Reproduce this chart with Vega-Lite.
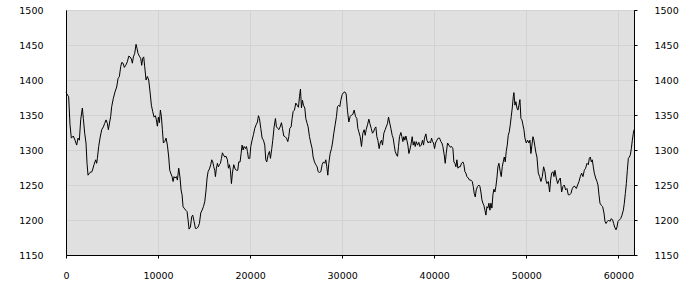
{
  "$schema": "https://vega.github.io/schema/vega-lite/v6.json",
  "width": 568,
  "height": 245,
  "autosize": {"type": "none"},
  "padding": {"left": 66, "top": 10, "right": 66, "bottom": 45},
  "background": "white",
  "config": {
    "view": {"fill": "#e0e0e0", "stroke": "#000000", "strokeWidth": 1},
    "axis": {
      "labelFont": "DejaVu Sans",
      "labelFontSize": 9.5,
      "labelColor": "#000000",
      "domainColor": "#000000",
      "tickColor": "#000000",
      "gridColor": "#d2d2d2",
      "gridWidth": 1,
      "title": null
    }
  },
  "data": {
    "values": [
      {"x":0,"y":1382},{"x":290,"y":1376},{"x":435,"y":1336},{"x":580,"y":1317},{"x":797,"y":1320},{"x":979,"y":1314},{"x":1160,"y":1307},{"x":1305,"y":1317},{"x":1450,"y":1314},{"x":1595,"y":1343},{"x":1776,"y":1360},{"x":1884,"y":1345},{"x":2029,"y":1324},{"x":2174,"y":1310},{"x":2283,"y":1281},{"x":2392,"y":1264},{"x":2609,"y":1268},{"x":2826,"y":1269},{"x":3044,"y":1279},{"x":3225,"y":1286},{"x":3334,"y":1281},{"x":3406,"y":1288},{"x":3551,"y":1305},{"x":3696,"y":1317},{"x":3877,"y":1329},{"x":4058,"y":1333},{"x":4203,"y":1338},{"x":4348,"y":1343},{"x":4493,"y":1338},{"x":4602,"y":1329},{"x":4747,"y":1340},{"x":4855,"y":1348},{"x":4964,"y":1362},{"x":5145,"y":1374},{"x":5326,"y":1383},{"x":5507,"y":1390},{"x":5652,"y":1402},{"x":5797,"y":1405},{"x":5942,"y":1419},{"x":6051,"y":1425},{"x":6196,"y":1424},{"x":6341,"y":1418},{"x":6486,"y":1421},{"x":6667,"y":1426},{"x":6812,"y":1434},{"x":6957,"y":1433},{"x":7101,"y":1430},{"x":7210,"y":1424},{"x":7319,"y":1433},{"x":7464,"y":1438},{"x":7609,"y":1451},{"x":7717,"y":1445},{"x":7826,"y":1438},{"x":7971,"y":1434},{"x":8116,"y":1431},{"x":8225,"y":1421},{"x":8333,"y":1431},{"x":8442,"y":1433},{"x":8551,"y":1419},{"x":8696,"y":1400},{"x":8841,"y":1405},{"x":8985,"y":1400},{"x":9130,"y":1383},{"x":9275,"y":1364},{"x":9420,"y":1355},{"x":9565,"y":1347},{"x":9710,"y":1349},{"x":9819,"y":1343},{"x":9927,"y":1334},{"x":10036,"y":1347},{"x":10145,"y":1339},
      {"x":10254,"y":1357},{"x":10362,"y":1348},{"x":10471,"y":1329},{"x":10580,"y":1310},{"x":10725,"y":1312},{"x":10870,"y":1317},{"x":11014,"y":1307},{"x":11159,"y":1290},{"x":11268,"y":1271},{"x":11377,"y":1267},{"x":11522,"y":1262},{"x":11630,"y":1255},{"x":11739,"y":1262},{"x":11848,"y":1260},{"x":11993,"y":1262},{"x":12101,"y":1257},{"x":12246,"y":1274},{"x":12391,"y":1260},{"x":12500,"y":1243},{"x":12609,"y":1236},{"x":12717,"y":1219},{"x":12826,"y":1217},{"x":13007,"y":1214},{"x":13152,"y":1212},{"x":13261,"y":1200},{"x":13369,"y":1187},{"x":13514,"y":1190},{"x":13659,"y":1205},{"x":13768,"y":1207},{"x":13913,"y":1198},{"x":14058,"y":1188},{"x":14203,"y":1188},{"x":14348,"y":1190},{"x":14493,"y":1195},{"x":14637,"y":1210},{"x":14782,"y":1214},{"x":14927,"y":1219},{"x":15072,"y":1226},{"x":15217,"y":1243},{"x":15326,"y":1260},{"x":15435,"y":1269},{"x":15579,"y":1273},{"x":15724,"y":1279},{"x":15833,"y":1286},{"x":15942,"y":1283},{"x":16050,"y":1276},{"x":16159,"y":1271},{"x":16232,"y":1262},{"x":16340,"y":1274},{"x":16449,"y":1281},{"x":16558,"y":1276},{"x":16666,"y":1279},{"x":16775,"y":1281},{"x":16884,"y":1288},{"x":16992,"y":1296},{"x":17101,"y":1293},{"x":17246,"y":1290},{"x":17391,"y":1291},{"x":17536,"y":1286},{"x":17645,"y":1274},{"x":17753,"y":1279},{"x":17862,"y":1271},{"x":17971,"y":1252},{"x":18079,"y":1267},{"x":18224,"y":1279},{"x":18369,"y":1273},{"x":18514,"y":1271},{"x":18659,"y":1271},{"x":18768,"y":1283},{"x":18913,"y":1283},{"x":19021,"y":1295},{"x":19130,"y":1307},{"x":19239,"y":1300},{"x":19347,"y":1305},{"x":19492,"y":1302},{"x":19601,"y":1305},{"x":19710,"y":1298},{"x":19818,"y":1288},{"x":19963,"y":1288},{"x":20072,"y":1305},{"x":20217,"y":1314},{"x":20362,"y":1322},
      {"x":20507,"y":1331},{"x":20652,"y":1336},{"x":20797,"y":1340},{"x":20905,"y":1349},{"x":21014,"y":1345},{"x":21159,"y":1331},{"x":21304,"y":1317},{"x":21449,"y":1314},{"x":21594,"y":1307},{"x":21702,"y":1286},{"x":21811,"y":1283},{"x":21956,"y":1293},{"x":22101,"y":1298},{"x":22210,"y":1288},{"x":22355,"y":1302},{"x":22463,"y":1314},{"x":22608,"y":1333},{"x":22753,"y":1345},{"x":22862,"y":1333},{"x":23007,"y":1331},{"x":23115,"y":1329},{"x":23260,"y":1333},{"x":23405,"y":1339},{"x":23514,"y":1331},{"x":23659,"y":1320},{"x":23804,"y":1319},{"x":23949,"y":1317},{"x":24094,"y":1312},{"x":24202,"y":1319},{"x":24311,"y":1331},{"x":24456,"y":1333},{"x":24565,"y":1345},{"x":24673,"y":1355},{"x":24818,"y":1357},{"x":24963,"y":1367},{"x":25108,"y":1364},{"x":25253,"y":1361},{"x":25362,"y":1376},{"x":25470,"y":1387},{"x":25579,"y":1360},{"x":25688,"y":1371},{"x":25796,"y":1364},{"x":25941,"y":1360},{"x":26050,"y":1345},{"x":26195,"y":1338},{"x":26304,"y":1333},{"x":26449,"y":1319},{"x":26593,"y":1310},{"x":26738,"y":1302},{"x":26847,"y":1290},{"x":26992,"y":1283},{"x":27137,"y":1279},{"x":27282,"y":1276},{"x":27391,"y":1269},{"x":27536,"y":1268},{"x":27681,"y":1269},{"x":27825,"y":1279},{"x":27970,"y":1283},{"x":28115,"y":1281},{"x":28224,"y":1286},{"x":28333,"y":1276},{"x":28441,"y":1264},{"x":28550,"y":1281},{"x":28695,"y":1295},{"x":28840,"y":1302},{"x":28949,"y":1310},{"x":29093,"y":1324},{"x":29238,"y":1336},{"x":29383,"y":1348},{"x":29492,"y":1362},{"x":29637,"y":1364},{"x":29746,"y":1362},{"x":29854,"y":1371},{"x":29999,"y":1379},{"x":30144,"y":1382},{"x":30289,"y":1383},{"x":30434,"y":1380},{"x":30579,"y":1356},
      {"x":30725,"y":1340},{"x":30870,"y":1348},{"x":31015,"y":1350},{"x":31160,"y":1351},{"x":31305,"y":1357},{"x":31449,"y":1348},{"x":31594,"y":1345},{"x":31703,"y":1331},{"x":31812,"y":1326},{"x":31957,"y":1319},{"x":32102,"y":1305},{"x":32247,"y":1324},{"x":32391,"y":1329},{"x":32500,"y":1321},{"x":32609,"y":1329},{"x":32754,"y":1336},{"x":32899,"y":1344},{"x":33007,"y":1338},{"x":33152,"y":1331},{"x":33297,"y":1324},{"x":33406,"y":1326},{"x":33551,"y":1331},{"x":33659,"y":1333},{"x":33768,"y":1319},{"x":33877,"y":1314},{"x":34022,"y":1302},{"x":34130,"y":1310},{"x":34275,"y":1314},{"x":34384,"y":1307},{"x":34529,"y":1324},{"x":34674,"y":1329},{"x":34783,"y":1333},{"x":34928,"y":1338},{"x":35036,"y":1347},{"x":35145,"y":1340},{"x":35290,"y":1331},{"x":35435,"y":1321},{"x":35544,"y":1317},{"x":35652,"y":1307},{"x":35761,"y":1298},{"x":35906,"y":1293},{"x":36014,"y":1291},{"x":36123,"y":1305},{"x":36232,"y":1319},{"x":36377,"y":1325},{"x":36485,"y":1319},{"x":36594,"y":1312},{"x":36703,"y":1319},{"x":36811,"y":1314},{"x":36920,"y":1320},{"x":37029,"y":1314},{"x":37138,"y":1307},{"x":37246,"y":1295},{"x":37355,"y":1300},{"x":37464,"y":1307},{"x":37609,"y":1319},{"x":37717,"y":1307},{"x":37826,"y":1312},{"x":37935,"y":1305},{"x":38043,"y":1312},{"x":38188,"y":1307},{"x":38333,"y":1311},{"x":38442,"y":1305},{"x":38587,"y":1307},{"x":38732,"y":1314},{"x":38840,"y":1307},{"x":38949,"y":1317},{"x":39094,"y":1323},{"x":39203,"y":1314},{"x":39348,"y":1310},{"x":39456,"y":1312},{"x":39601,"y":1310},{"x":39710,"y":1317},{"x":39819,"y":1312},{"x":39927,"y":1310},{"x":40036,"y":1302},{"x":40145,"y":1310},{"x":40290,"y":1314},{"x":40435,"y":1317},{"x":40579,"y":1317},{"x":40724,"y":1312},{"x":40833,"y":1310},
      {"x":40942,"y":1305},{"x":41087,"y":1293},{"x":41195,"y":1281},{"x":41304,"y":1295},{"x":41449,"y":1310},{"x":41594,"y":1307},{"x":41739,"y":1304},{"x":41884,"y":1305},{"x":42029,"y":1302},{"x":42137,"y":1283},{"x":42246,"y":1281},{"x":42355,"y":1276},{"x":42464,"y":1286},{"x":42572,"y":1274},{"x":42681,"y":1276},{"x":42826,"y":1276},{"x":42971,"y":1281},{"x":43116,"y":1283},{"x":43224,"y":1279},{"x":43333,"y":1269},{"x":43442,"y":1267},{"x":43550,"y":1262},{"x":43695,"y":1260},{"x":43840,"y":1257},{"x":43985,"y":1257},{"x":44130,"y":1255},{"x":44239,"y":1248},{"x":44347,"y":1238},{"x":44456,"y":1233},{"x":44565,"y":1243},{"x":44710,"y":1248},{"x":44855,"y":1250},{"x":44963,"y":1248},{"x":45072,"y":1240},{"x":45181,"y":1229},{"x":45289,"y":1224},{"x":45398,"y":1221},{"x":45507,"y":1214},{"x":45616,"y":1207},{"x":45724,"y":1219},{"x":45833,"y":1217},{"x":45942,"y":1224},{"x":46050,"y":1214},{"x":46159,"y":1224},{"x":46268,"y":1217},{"x":46376,"y":1236},{"x":46485,"y":1244},{"x":46594,"y":1240},{"x":46703,"y":1248},{"x":46811,"y":1260},{"x":46920,"y":1276},{"x":47029,"y":1281},{"x":47173,"y":1269},{"x":47282,"y":1262},{"x":47391,"y":1276},{"x":47499,"y":1283},{"x":47608,"y":1290},{"x":47717,"y":1283},{"x":47826,"y":1298},{"x":47934,"y":1307},{"x":48043,"y":1321},{"x":48152,"y":1326},{"x":48260,"y":1336},{"x":48369,"y":1348},{"x":48478,"y":1360},{"x":48586,"y":1376},{"x":48659,"y":1382},{"x":48768,"y":1364},{"x":48876,"y":1369},{"x":48985,"y":1360},{"x":49094,"y":1357},{"x":49202,"y":1364},{"x":49311,"y":1372},{"x":49420,"y":1345},{"x":49528,"y":1343},{"x":49637,"y":1336},{"x":49746,"y":1329},{"x":49854,"y":1317},{"x":49999,"y":1310},{"x":50144,"y":1314},{"x":50289,"y":1310},{"x":50398,"y":1314},{"x":50507,"y":1295},{"x":50615,"y":1307},{"x":50724,"y":1319},{"x":50833,"y":1314},{"x":50941,"y":1305},{"x":51050,"y":1296},
      {"x":51160,"y":1290},{"x":51305,"y":1267},{"x":51450,"y":1262},{"x":51595,"y":1255},{"x":51740,"y":1262},{"x":51884,"y":1276},{"x":52029,"y":1269},{"x":52138,"y":1257},{"x":52247,"y":1252},{"x":52392,"y":1255},{"x":52537,"y":1240},{"x":52645,"y":1257},{"x":52754,"y":1267},{"x":52899,"y":1269},{"x":53008,"y":1262},{"x":53116,"y":1271},{"x":53261,"y":1260},{"x":53406,"y":1252},{"x":53551,"y":1257},{"x":53696,"y":1260},{"x":53841,"y":1240},{"x":53986,"y":1248},{"x":54131,"y":1250},{"x":54276,"y":1243},{"x":54421,"y":1245},{"x":54565,"y":1236},{"x":54710,"y":1236},{"x":54855,"y":1238},{"x":55000,"y":1245},{"x":55145,"y":1248},{"x":55290,"y":1248},{"x":55435,"y":1245},{"x":55580,"y":1250},{"x":55725,"y":1255},{"x":55870,"y":1262},{"x":56015,"y":1267},{"x":56160,"y":1262},{"x":56305,"y":1271},{"x":56449,"y":1274},{"x":56594,"y":1281},{"x":56739,"y":1279},{"x":56848,"y":1288},{"x":56957,"y":1290},{"x":57065,"y":1283},{"x":57174,"y":1286},{"x":57283,"y":1276},{"x":57391,"y":1267},{"x":57536,"y":1260},{"x":57681,"y":1255},{"x":57790,"y":1250},{"x":57899,"y":1236},{"x":58007,"y":1224},{"x":58152,"y":1221},{"x":58297,"y":1219},{"x":58442,"y":1210},{"x":58551,"y":1198},{"x":58659,"y":1195},{"x":58804,"y":1198},{"x":58949,"y":1200},{"x":59094,"y":1198},{"x":59239,"y":1202},{"x":59384,"y":1200},{"x":59492,"y":1195},{"x":59601,"y":1190},{"x":59746,"y":1186},{"x":59855,"y":1190},{"x":59964,"y":1198},{"x":60109,"y":1200},{"x":60254,"y":1202},{"x":60399,"y":1207},{"x":60544,"y":1214},{"x":60652,"y":1224},{"x":60761,"y":1238},{"x":60870,"y":1252},{"x":60979,"y":1271},{"x":61087,"y":1288},{"x":61196,"y":1290},{"x":61305,"y":1293},{"x":61413,"y":1302},{"x":61522,"y":1314},{"x":61631,"y":1324},{"x":61703,"y":1329}
    ]
  },
  "layer": [
    {
      "mark": {"type": "line", "color": "#000000", "strokeWidth": 1},
      "encoding": {
        "x": {
          "field": "x", "type": "quantitative",
          "scale": {"domain": [0, 61703], "nice": false, "zero": false},
          "axis": {"values": [0, 10000, 20000, 30000, 40000, 50000, 60000], "format": "d", "grid": true, "tickSize": 3, "labelPadding": 12, "labelFlush": false}
        },
        "y": {
          "field": "y", "type": "quantitative",
          "scale": {"domain": [1150, 1500], "nice": false, "zero": false},
          "axis": {"orient": "left", "values": [1150, 1200, 1250, 1300, 1350, 1400, 1450, 1500], "format": "d", "grid": true, "ticks": false, "labelPadding": 23}
        }
      }
    },
    {
      "mark": {"type": "line", "strokeOpacity": 0},
      "encoding": {
        "x": {"field": "x", "type": "quantitative"},
        "y": {
          "field": "y", "type": "quantitative",
          "scale": {"domain": [1150, 1500], "nice": false, "zero": false},
          "axis": {"orient": "right", "values": [1150, 1200, 1250, 1300, 1350, 1400, 1450, 1500], "format": "d", "grid": false, "tickSize": 3, "labelPadding": 17}
        }
      }
    }
  ],
  "resolve": {"scale": {"y": "independent"}}
}
